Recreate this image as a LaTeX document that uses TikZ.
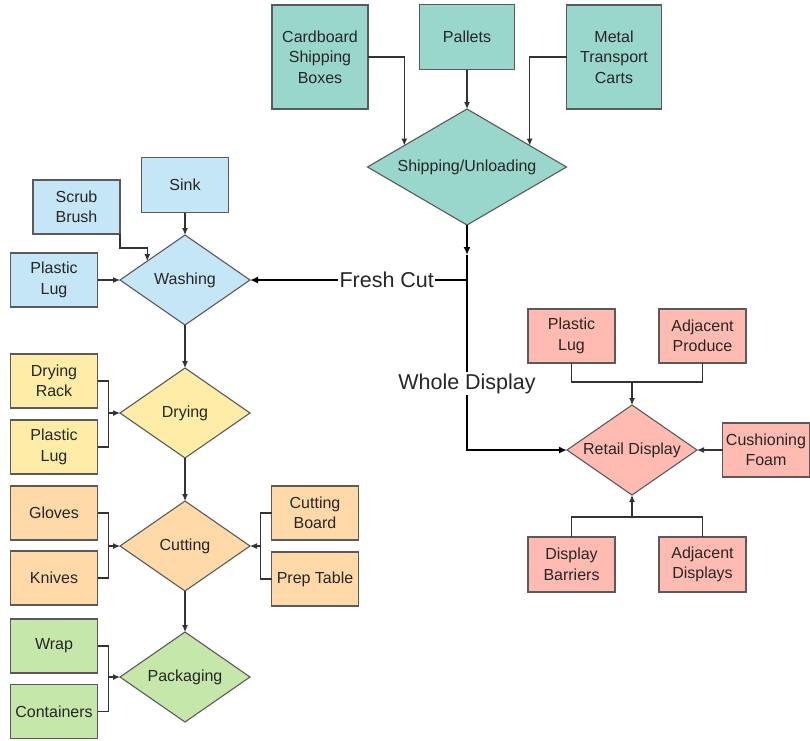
\documentclass[tikz,border=0pt]{standalone}
\usepackage{fontspec}
\setmainfont{Liberation Sans}
\usepackage{tikz}
\usetikzlibrary{calc,shapes.geometric,arrows.meta}
\definecolor{edge}{HTML}{5A5A5A}
\definecolor{wire}{HTML}{333333}
\definecolor{tealf}{HTML}{99D6CB}
\definecolor{bluef}{HTML}{C5E6F6}
\definecolor{yellowf}{HTML}{FFECA6}
\definecolor{orangef}{HTML}{FFD9A8}
\definecolor{greenf}{HTML}{C6E7AA}
\definecolor{redf}{HTML}{FFBBB1}
\newcommand{\lblfont}{\fontsize{16}{20.5}\selectfont}
\newcommand{\flowfont}{\fontsize{21.5}{24}\selectfont}
\tikzset{
  item/.style={draw=edge, line width=1.1pt, minimum width=87pt, minimum height=54pt,
    inner sep=1pt, outer sep=0pt, align=center, font=\lblfont, text=black!85},
  proc/.style={diamond, aspect=1.45, draw=edge, line width=1.1pt, minimum width=130pt, minimum height=90pt,
    inner sep=0pt, outer sep=0pt, font=\lblfont, text=black!85},
  tie/.style={draw=wire, line width=1.1pt},
  link/.style={draw=wire, line width=1.1pt, -{Latex[length=7pt,width=6pt]}},
  flow/.style={draw=black, line width=2pt, -{Latex[length=8pt,width=7pt]}},
  labm/.style={font=\flowfont, text=black!85, fill=white, inner sep=1.5pt}
}
\begin{document}
\begin{tikzpicture}[x=1pt,y=-1pt]
  \useasboundingbox (0,0) rectangle (810,740);

  % shipping
  \node[item, fill=tealf, minimum width=96pt, minimum height=104pt] (box) at (320,57) {Cardboard\\Shipping\\Boxes};
  \node[item, fill=tealf, minimum width=95pt, minimum height=65pt] (pallet) at (467,37) {Pallets};
  \node[item, fill=tealf, minimum width=95pt, minimum height=104pt] (cart) at (614,57) {Metal\\Transport\\Carts};
  \node[proc, fill=tealf, aspect=1.72, minimum width=199pt, minimum height=116pt] (ship) at (467,167) {Shipping/Unloading};

  \draw[link] (box.east) -| ($(ship.west)!0.37!(ship.north)$);
  \draw[link] (pallet) -- (ship);
  \draw[link] (cart.west) -| ($(ship.east)!0.37!(ship.north)$);

  % washing
  \node[item, fill=bluef, minimum height=55pt] (sink) at (185,185) {Sink};
  \node[item, fill=bluef] (brush) at (76.5,207) {Scrub\\Brush};
  \node[item, fill=bluef] (luga) at (54,280) {Plastic\\Lug};
  \node[proc, fill=bluef] (wash) at (185,280) {Washing};

  \draw[link] (sink) -- (wash);
  \draw[link] (luga) -- (wash);
  \draw[link] (brush.south east) -- ++(0,14) -| ($(wash.west)!0.42!(wash.north)$);

  % drying
  \node[item, fill=yellowf] (rack) at (54,381) {Drying\\Rack};
  \node[item, fill=yellowf] (lugb) at (54,447) {Plastic\\Lug};
  \node[proc, fill=yellowf] (dry) at (185,413) {Drying};

  \draw[tie] (rack.east) -- ++(11,0) |- (lugb.east);
  \draw[link] (dry.west) ++(-11,0) -- (dry.west);
  \draw[link] (wash) -- (dry);

  % cutting
  \node[item, fill=orangef] (gloves) at (54,513) {Gloves};
  \node[item, fill=orangef] (knives) at (54,578) {Knives};
  \node[item, fill=orangef] (board) at (315,513) {Cutting\\Board};
  \node[item, fill=orangef] (table) at (315,579) {Prep Table};
  \node[proc, fill=orangef] (cut) at (185,546) {Cutting};

  \draw[tie] (gloves.east) -- ++(11,0) |- (knives.east);
  \draw[link] (cut.west) ++(-11,0) -- (cut.west);
  \draw[tie] (board.west) -- ++(-11,0) |- (table.west);
  \draw[link] (cut.east) ++(11,0) -- (cut.east);
  \draw[link] (dry) -- (cut);

  % packaging
  \node[item, fill=greenf] (wrap) at (54,646) {Wrap};
  \node[item, fill=greenf] (cont) at (54,711.5) {Containers};
  \node[proc, fill=greenf] (pack) at (185,677) {Packaging};

  \draw[tie] (wrap.east) -- ++(11,0) |- (cont.east);
  \draw[link] (pack.west) ++(-11,0) -- (pack.west);
  \draw[link] (cut) -- (pack);

  % retail
  \node[item, fill=redf] (lugc) at (571.5,336) {Plastic\\Lug};
  \node[item, fill=redf] (prod) at (702.5,336) {Adjacent\\Produce};
  \node[item, fill=redf] (foam) at (766,450) {Cushioning\\Foam};
  \node[item, fill=redf, minimum height=55pt] (barrier) at (571.5,564.5) {Display\\Barriers};
  \node[item, fill=redf, minimum height=55pt] (disp) at (702.5,564.5) {Adjacent\\Displays};
  \node[proc, fill=redf] (retail) at (632,450) {Retail Display};

  \draw[tie] (lugc.south) -- ++(0,19) -| (prod.south);
  \draw[link] (retail.north) ++(0,-23) -- (retail.north);
  \draw[tie] (barrier.north) -- ++(0,-20) -| (disp.north);
  \draw[link] (retail.south) ++(0,23) -- (retail.south);
  \draw[link] (foam) -- (retail);

  % main flow out of shipping
  \coordinate (split) at ($(ship.south)+(0,30)$);
  \draw[flow] (ship.south) -- (split);
  \draw[flow] (split) |- node[labm, pos=0.33] {Whole Display} (retail.west);
  \draw[flow] (split |- wash.east) -- node[labm, pos=0.37] {Fresh Cut} (wash.east);
\end{tikzpicture}
\end{document}
